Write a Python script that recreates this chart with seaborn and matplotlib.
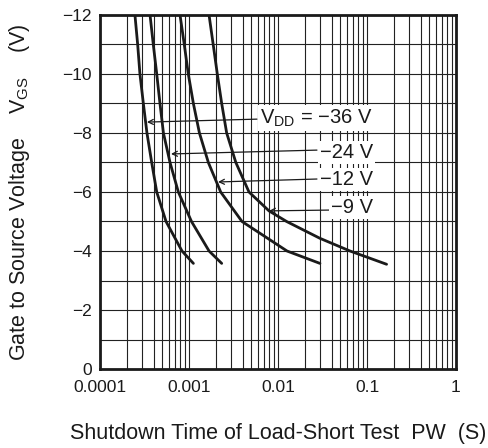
import numpy as np
import pandas as pd
import matplotlib
matplotlib.use("Agg")
import matplotlib.pyplot as plt
import seaborn as sns

# ---- data ----
vgs_36 = [-12, -11, -10, -9, -8, -7, -6, -5, -4, -3.58]
pw_36 = [0.000247, 0.000265, 0.000281, 0.000307, 0.000337, 0.000381, 0.000434, 0.000552, 0.000834, 0.00112]
vgs_24 = [-12, -11, -10, -9, -8, -7, -6, -5, -4, -3.58]
pw_24 = [0.000365, 0.000397, 0.000434, 0.000472, 0.000516, 0.000612, 0.000759, 0.001067, 0.00168, 0.00233]
vgs_12 = [-12, -11, -10, -9, -8, -7, -6, -5, -4, -3.58]
pw_12 = [0.000793, 0.000885, 0.000982, 0.00112, 0.00131, 0.00165, 0.00227, 0.00394, 0.01262, 0.0296]
vgs_9 = [-12, -11, -10, -9, -8, -7, -6, -5.36, -5, -4.43, -4, -3.55]
pw_9 = [0.00168, 0.00187, 0.00208, 0.00233, 0.00265, 0.00336, 0.00472, 0.00792, 0.0125, 0.0296, 0.0644, 0.166]

series_labels = ["$\\mathregular{V_{DD}}$ = \u221236 V", "\u221224 V", "\u221212 V", "\u22129 V"]
label_pos = [(0.1167, -8.51), (0.1167, -7.35), (0.1167, -6.44), (0.1167, -5.46)]
arrow_tail = [(0.0058, -8.47), (0.0274, -7.42), (0.0274, -6.44), (0.0437, -5.39)]
arrow_head = [(0.000337, -8.37), (0.000628, -7.29), (0.00212, -6.34), (0.00792, -5.36)]

x_ticks = [0.0001, 0.001, 0.01, 0.1, 1]
x_ticklabels = ["0.0001", "0.001", "0.01", "0.1", "1"]
y_ticks = [0, -2, -4, -6, -8, -10, -12]
y_ticklabels = ["0", "\u22122", "\u22124", "\u22126", "\u22128", "\u221210", "\u221212"]

df = pd.concat([
    pd.DataFrame({"pw": pw_36, "vgs": vgs_36, "vdd": "-36"}),
    pd.DataFrame({"pw": pw_24, "vgs": vgs_24, "vdd": "-24"}),
    pd.DataFrame({"pw": pw_12, "vgs": vgs_12, "vdd": "-12"}),
    pd.DataFrame({"pw": pw_9, "vgs": vgs_9, "vdd": "-9"}),
], ignore_index=True)

sns.set_theme(style="white")
plt.rcParams["font.family"] = ["Liberation Sans", "DejaVu Sans"]
plt.rcParams["mathtext.fontset"] = "custom"
plt.rcParams["mathtext.rm"] = "Liberation Sans"
plt.rcParams["mathtext.it"] = "Liberation Sans"

fig = plt.figure(figsize=(4.89, 4.48), dpi=100)
ax = fig.add_axes([100/489, 1-369/448, 356/489, 354/448])

sns.lineplot(data=df, x="pw", y="vgs", hue="vdd", units="vdd", estimator=None,
             palette=["#1a1a1a"]*4, linewidth=2.0, legend=False, sort=False, ax=ax)
for l in ax.lines:
    l.set_solid_joinstyle("round")

ax.set_xscale("log")
ax.set_xlim(0.0001, 1)
ax.set_ylim(0, -12)

# grid
for dec in [1e-4, 1e-3, 1e-2, 1e-1]:
    for m in range(1, 10):
        ax.axvline(dec*m, color="#222222", lw=0.8, zorder=0.5)
for v in range(-11, 0):
    ax.axhline(v, color="#222222", lw=0.8, zorder=0.5)

ax.set_xticks(x_ticks)
ax.set_xticklabels(x_ticklabels)
ax.xaxis.set_minor_locator(matplotlib.ticker.NullLocator())
ax.set_yticks(y_ticks)
ax.set_yticklabels(y_ticklabels)
ax.tick_params(axis="both", length=0, labelsize=12.5, colors="#1a1a1a")
ax.tick_params(axis="x", pad=8)
ax.tick_params(axis="y", pad=6)

for s in ax.spines.values():
    s.set_color("#1a1a1a")
    s.set_linewidth(2.0)

ax.set_xlabel("Shutdown Time of Load-Short Test  PW  (S)", fontsize=15.5, labelpad=20, color="#1a1a1a")
ax.set_ylabel("Gate to Source Voltage    $\\mathregular{V_{GS}}$    (V)", fontsize=15.5, labelpad=22, color="#1a1a1a")

for lab, (tx, ty), (ax0, ay0), (hx, hy) in zip(series_labels, label_pos, arrow_tail, arrow_head):
    ax.text(tx, ty, lab, ha="right", va="center", fontsize=14.5, color="#1a1a1a",
            bbox=dict(facecolor="white", edgecolor="none", pad=1.5), zorder=5)
    ax.annotate("", xy=(hx, hy), xytext=(ax0, ay0),
                arrowprops=dict(arrowstyle="->", color="#1a1a1a", lw=0.9,
                                shrinkA=0, shrinkB=0, mutation_scale=9), zorder=4)

fig.savefig("out.png", dpi=100)
